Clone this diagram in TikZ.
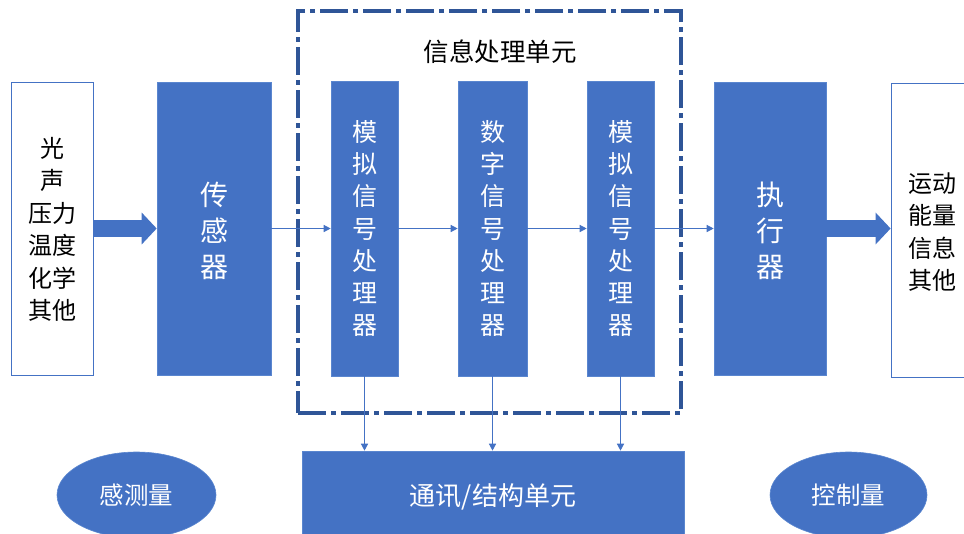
\documentclass[tikz,border=0pt]{standalone}
\usepackage{fontspec}
\newfontfamily\cjk{Noto Sans CJK SC}
\usetikzlibrary{arrows.meta,shapes.geometric}
\definecolor{obox}{HTML}{4472C4}
\definecolor{oedge}{HTML}{5A86CF}
\definecolor{oframe}{HTML}{2F5597}
\newcommand{\vstack}[2]{\raisebox{#1}[0pt][0pt]{\begin{tabular}{@{}c@{}}#2\end{tabular}}}
\begin{document}
\begin{tikzpicture}[x=1pt,y=-1pt,
  bluebox/.style={rectangle,fill=obox,draw=oedge,line width=0.6pt,inner sep=0pt,text=white,align=center},
  whitebox/.style={rectangle,fill=white,draw=obox,line width=0.8pt,inner sep=0pt,text=black,align=center},
  bigtxt/.style={font=\cjk\fontsize{28}{36}\selectfont},
  midtxt/.style={font=\cjk\fontsize{25}{32.3}\selectfont},
  sidetxt/.style={font=\cjk\fontsize{24}{32.5}\selectfont},
  thinarrow/.style={draw=obox,line width=1.3pt,-{Triangle[length=7pt,width=7pt]}},
  blockarrow/.style={draw=obox,line width=17pt,-{Triangle[length=15pt,width=31pt]}},
  oval/.style={ellipse,fill=obox,draw=oedge,line width=0.6pt,inner sep=0pt,text=white,font=\cjk\fontsize{24.5}{28}\selectfont},
  frame/.style={draw=oframe,line width=4pt,dash pattern=on 28pt off 5pt on 5pt off 5pt}
]
\useasboundingbox (0,0) rectangle (964,533);
\clip (0,0) rectangle (964,533);
\fill[white] (0,0) rectangle (964,533);

% dash-dot frame
\node[frame,rectangle,minimum width=383pt,minimum height=402pt,inner sep=0pt] (frm) at (489.5,212) {};
\node[font=\cjk\fontsize{25.5}{28}\selectfont,text=black] (title) at (500,52) {信息处理单元};

% boxes
\node[whitebox,sidetxt,minimum width=82pt,minimum height=293pt] (src) at (52,228.5) {\vstack{-9.5pt}{光\\声\\压力\\温度\\化学\\其他}};
\node[bluebox,bigtxt,minimum width=114pt,minimum height=293pt] (sensor) at (214,228.5) {\vstack{-12.5pt}{传\\感\\器}};
\node[bluebox,midtxt,minimum width=67pt,minimum height=295pt] (a1) at (364.5,228.5) {\vstack{-9.3pt}{模\\拟\\信\\号\\处\\理\\器}};
\node[bluebox,midtxt,minimum width=69pt,minimum height=295pt] (dg) at (492.5,228.5) {\vstack{-9.3pt}{数\\字\\信\\号\\处\\理\\器}};
\node[bluebox,midtxt,minimum width=67pt,minimum height=295pt] (a2) at (620.5,228.5) {\vstack{-9.3pt}{模\\拟\\信\\号\\处\\理\\器}};
\node[bluebox,bigtxt,minimum width=112pt,minimum height=293pt] (act) at (770,228.5) {\vstack{-12.5pt}{执\\行\\器}};
\node[whitebox,sidetxt,minimum width=82pt,minimum height=294pt] (out) at (932,230) {\vstack{-10.5pt}{运动\\能量\\信息\\其他}};

\node[bluebox,font=\cjk\fontsize{26}{30}\selectfont,minimum width=382pt,minimum height=92pt] (comm) at (493,497) {通讯/结构单元};

\node[oval,minimum width=159pt,minimum height=86pt] (e1) at (136.5,495) {感测量};
\node[oval,minimum width=157pt,minimum height=86pt] (e2) at (848.5,495) {控制量};

% connectors
\draw[blockarrow] (src.east) -- (src.east -| sensor.west);
\draw[blockarrow] (act.east) -- (act.east -| out.west);
\draw[thinarrow] (sensor.east) -- (a1.west);
\draw[thinarrow] (a1.east) -- (dg.west);
\draw[thinarrow] (dg.east) -- (a2.west);
\draw[thinarrow] (a2.east) -- (act.west);
\draw[thinarrow] (a1.south) -- (a1.south |- comm.north);
\draw[thinarrow] (dg.south) -- (dg.south |- comm.north);
\draw[thinarrow] (a2.south) -- (a2.south |- comm.north);
\end{tikzpicture}
\end{document}
